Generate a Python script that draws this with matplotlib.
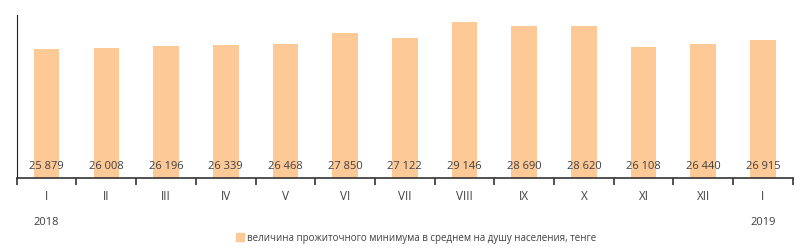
import numpy as np
import matplotlib.pyplot as plt
from matplotlib.patches import Patch
from matplotlib.transforms import blended_transform_factory

# monthly subsistence minimum, tenge
months = ['I', 'II', 'III', 'IV', 'V', 'VI', 'VII', 'VIII', 'IX', 'X', 'XI', 'XII', 'I']
values = [25879, 26008, 26196, 26339, 26468, 27850, 27122, 29146, 28690, 28620, 26108, 26440, 26915]
years = {0: '2018', 12: '2019'}
legend_label = 'величина прожиточного минимума в среднем на душу населения, тенге'

bar_color = '#FDC997'
text_color = '#404040'

plt.rcParams['font.family'] = ['Open Sans', 'DejaVu Sans']

fig = plt.figure(figsize=(8, 2.5), dpi=100)
ax = fig.add_axes([0.021, 0.288, 0.970, 0.652])

x = np.arange(len(months))
ax.bar(x, values, width=0.43, color=bar_color, zorder=2)

ax.set_ylim(10000, 30000)
ax.set_xlim(-0.5, len(months) - 0.5)

# value labels near the bottom of each bar
for xi, v in zip(x, values):
    label = f'{v:,}'.replace(',', ' ')
    ax.text(xi, 10700, label, ha='center', va='bottom', fontsize=8, color=text_color)

ax.set_xticks(x)
ax.set_xticklabels(months, fontsize=8.5, color=text_color)
ax.set_xticks(np.arange(-0.5, len(months)), minor=True)
ax.tick_params(axis='x', which='major', length=0, pad=9)
ax.tick_params(axis='x', which='minor', length=5, width=1.2, color='#333333', direction='out')
ax.set_yticks([])

for side in ['top', 'right']:
    ax.spines[side].set_visible(False)
ax.spines['left'].set_color('#222222')
ax.spines['bottom'].set_color('#333333')
ax.spines['bottom'].set_linewidth(1.2)

trans = blended_transform_factory(ax.transData, fig.transFigure)
for idx, yr in years.items():
    ax.text(idx, 0.11, yr, ha='center', va='center', fontsize=8, color=text_color, transform=trans)

handle = Patch(color=bar_color, label=legend_label)
fig.legend(handles=[handle], loc='center', bbox_to_anchor=(0.52, 0.048), frameon=False,
           fontsize=7, handlelength=0.8, handleheight=0.8, handletextpad=0.3,
           labelcolor=text_color)

fig.savefig('out.png', dpi=100)
